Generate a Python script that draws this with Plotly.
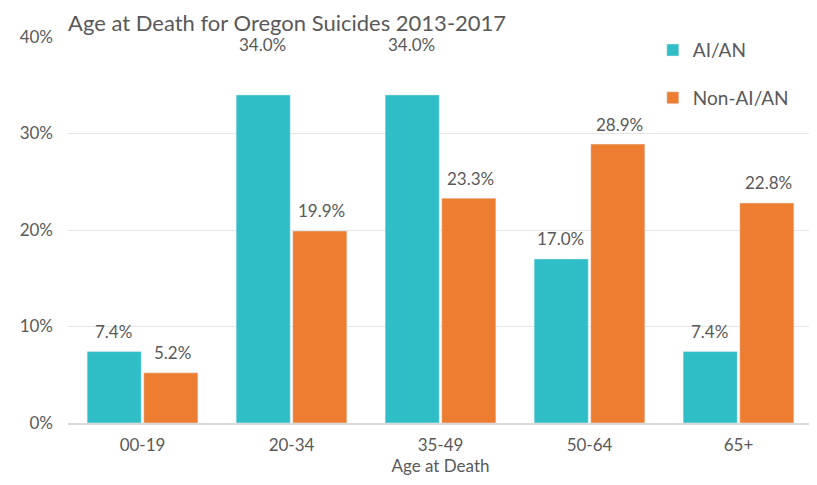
import plotly.graph_objects as go

categories = ["00-19", "20-34", "35-49", "50-64", "65+"]
aian = [7.4, 34.0, 34.0, 17.0, 7.4]
non_aian = [5.2, 19.9, 23.3, 28.9, 22.8]
series_names = ["AI/AN", "Non-AI/AN"]
title_text = "Age at Death for Oregon Suicides 2013-2017"
x_title = "Age at Death"

teal = "#2FBEC6"
orange = "#ED7D31"
font_color = "#595959"
font_family = "Lato, 'Open Sans', sans-serif"

series = [(series_names[0], aian, teal), (series_names[1], non_aian, orange)]

fig = go.Figure()
for name, vals, col in series:
    fig.add_trace(go.Bar(
        x=categories, y=vals, name=name, marker_color=col, legendgroup=name,
        hoverinfo="x+y+name",
    ))

# data labels (style: pixel offsets from bar tops; the 34% labels sit higher in the original)
label_yshift = [[20, 50, 50, 20, 20], [20, 20, 20, 20, 20]]
label_xshift = [-29.5, 29.5]
annotations = []
for si, (name, vals, col) in enumerate(series):
    for ci, (cat, v) in enumerate(zip(categories, vals)):
        annotations.append(dict(
            x=cat, y=v, xref="x", yref="y", text=f"{v:.1f}%", showarrow=False,
            xshift=label_xshift[si], yshift=label_yshift[si][ci], yanchor="middle",
            font=dict(size=17, color=font_color),
        ))

W, H = 809, 477
fig.update_layout(
    width=W, height=H,
    margin=dict(l=60, r=4, t=29, b=62, autoexpand=False),
    paper_bgcolor="white", plot_bgcolor="white",
    font=dict(family=font_family, color=font_color, size=16),
    title=dict(text=title_text, x=60 / W, xanchor="left", yref="container",
               y=1 - 15 / H, yanchor="middle", font=dict(size=22, color=font_color)),
    barmode="group", bargap=0.24, bargroupgap=0.044,
    legend=dict(x=0.785, y=1.015, xanchor="left", yanchor="top", bgcolor="rgba(0,0,0,0)",
                font=dict(size=19, color=font_color), tracegroupgap=20),
    annotations=annotations,
    xaxis=dict(title=dict(text=x_title, font=dict(size=17), standoff=5),
               showline=True, linecolor="#D9D9D9", linewidth=1.5, ticks="",
               tickfont=dict(size=17), ticklabelstandoff=6, automargin=False),
    yaxis=dict(range=[0, 40], dtick=10, ticksuffix="%", showgrid=True,
               gridcolor="#E6E6E6", gridwidth=1, zeroline=False,
               tickfont=dict(size=17), ticklabelstandoff=14, automargin=False),
)

fig.write_html("out.html")
